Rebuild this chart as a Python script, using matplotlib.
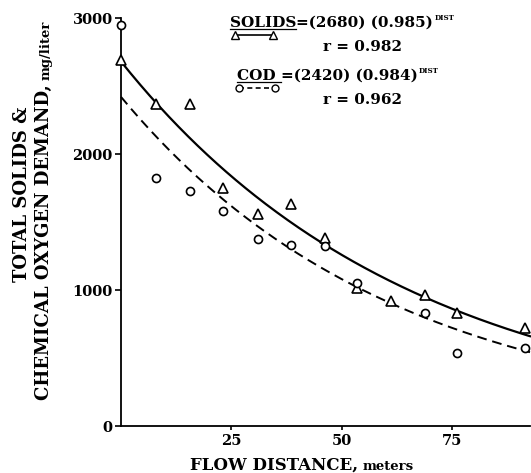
import matplotlib
matplotlib.use("Agg")
import matplotlib.pyplot as plt
import numpy as np

# ---- data ----
dist_solids = [0, 7.9, 15.6, 23.1, 31.0, 38.5, 46.2, 53.6, 61.3, 68.8, 76.2, 91.6]
solids = [2690, 2370, 2370, 1750, 1560, 1630, 1380, 1015, 920, 965, 830, 720]
dist_cod = [0, 7.9, 15.6, 23.1, 31.0, 38.5, 46.2, 53.6, 68.8, 76.2, 91.6]
cod = [2950, 1825, 1730, 1580, 1375, 1330, 1325, 1050, 830, 540, 575]

# fitted models stated on the chart: value = a * b ** DIST
solids_a, solids_b, solids_r = 2680, 0.985, 0.982
cod_a, cod_b, cod_r = 2420, 0.984, 0.962

xticks = [25, 50, 75]
yticks = [0, 1000, 2000, 3000]

W, H = 531, 473
plt.rcParams['font.family'] = ['DejaVu Serif']
plt.rcParams['font.weight'] = 'bold'
fig = plt.figure(figsize=(W / 100, H / 100), dpi=100)

def fx(px):
    return px / W

def fy(py):
    return 1 - py / H

ax = fig.add_axes([fx(121), fy(426), fx(530) - fx(121), fy(18) - fy(426)])
ax.set_xlim(0, 92.7)
ax.set_ylim(0, 3000)
for s in ['top', 'right']:
    ax.spines[s].set_visible(False)
for s in ['left', 'bottom']:
    ax.spines[s].set_linewidth(1.3)

xx = np.linspace(0, 92.7, 300)
ax.plot(xx, solids_a * solids_b ** xx, color='black', lw=1.6, clip_on=False)
ax.plot(xx, cod_a * cod_b ** xx, color='black', lw=1.4, ls=(0, (5, 3)), clip_on=False)
ax.plot(dist_solids, solids, ls='none', marker='^', ms=7, mfc='white', mec='black',
        mew=1.2, clip_on=False, zorder=5)
ax.plot(dist_cod, cod, ls='none', marker='o', ms=5.8, mfc='white', mec='black',
        mew=1.2, clip_on=False, zorder=5)

ax.set_xticks(xticks)
ax.set_yticks(yticks)
ax.set_xticklabels([str(t) for t in xticks])
ax.set_yticklabels([str(t) for t in yticks])
ax.tick_params(axis='both', direction='out', length=4, width=1.2, labelsize=10.5, pad=2)
ax.tick_params(axis='x', length=3, pad=3)

# x label
t1 = fig.text(fx(190), fy(470), "FLOW DISTANCE,", fontsize=12, ha='left', va='baseline')
fig.canvas.draw()
bb = t1.get_window_extent()
fig.text(bb.x1 / W + 0.008, fy(470), "meters", fontsize=9.5, ha='left', va='baseline')

# y label
fig.text(fx(31), fy(194), "TOTAL SOLIDS &", fontsize=13, rotation=90, ha='right', va='center')
t2 = fig.text(fx(53), fy(400), "CHEMICAL OXYGEN DEMAND,", fontsize=13, rotation=90,
              ha='right', va='bottom')
fig.canvas.draw()
bb2 = t2.get_window_extent()
fig.text(fx(53), bb2.y1 / H + 0.008, "mg/liter", fontsize=9.5, rotation=90,
         ha='right', va='bottom')

# legend-like equations
def eq(x0, y0, name, a, b):
    tn = fig.text(fx(x0), fy(y0), name, fontsize=11, ha='left', va='baseline')
    fig.canvas.draw()
    b1 = tn.get_window_extent()
    fig.add_artist(plt.Line2D([b1.x0 / W, b1.x1 / W], [fy(y0 + 2), fy(y0 + 2)],
                              color='black', lw=0.9))
    tr = fig.text(b1.x1 / W, fy(y0), "=(%d) (%.3f)" % (a, b), fontsize=11,
                  ha='left', va='baseline')
    fig.canvas.draw()
    b2 = tr.get_window_extent()
    fig.text(b2.x1 / W + 0.002, fy(y0 - 7), "DIST", fontsize=5, fontweight='bold',
             ha='left', va='baseline')

eq(230, 27, "SOLIDS", solids_a, solids_b)
fig.text(fx(323), fy(51), "r = %.3f" % solids_r, fontsize=11, ha='left', va='baseline')
eq(237, 80, "COD ", cod_a, cod_b)
fig.text(fx(323), fy(104), "r = %.3f" % cod_r, fontsize=11, ha='left', va='baseline')

fig.add_artist(plt.Line2D([fx(235), fx(273)], [fy(35), fy(35)], color='black', lw=1.2,
                          marker='^', ms=6, mfc='white', mec='black'))
fig.add_artist(plt.Line2D([fx(239), fx(275)], [fy(88), fy(88)], color='black', lw=1.2,
                          ls=(0, (3, 2)), marker='o', ms=5, mfc='white', mec='black'))

fig.savefig("out.png", dpi=100)
